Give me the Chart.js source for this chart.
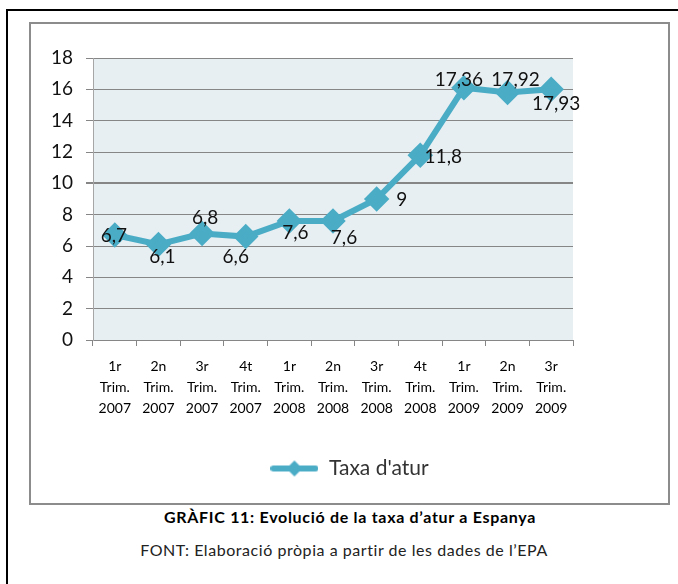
<!DOCTYPE html>
<html><head><meta charset="utf-8">
<script src="https://cdn.jsdelivr.net/npm/chart.js@4.4.0/dist/chart.umd.min.js"></script>
<style>
html,body{margin:0;padding:0;background:#fff;width:678px;height:584px;overflow:hidden;position:relative;font-family:Lato,sans-serif}
#outer{position:absolute;left:6px;top:9px;width:700px;height:700px;border:2px solid #000;box-sizing:border-box}
#box{position:absolute;left:29px;top:22px;width:641px;height:483px;border:2px solid #8c8c8c;box-sizing:border-box}
#wrap{position:absolute;left:31px;top:24px;width:637px;height:479px}
.cap1{position:absolute;left:30px;width:640px;top:507px;text-align:center;font:bold 16px Lato,sans-serif;letter-spacing:0.7px;color:#000}
.cap2{position:absolute;left:24px;width:640px;top:540px;text-align:center;font:16px Lato,sans-serif;letter-spacing:0.55px;color:#222}
</style></head>
<body>
<div id="outer"></div>
<div id="box"></div>
<div id="wrap"><canvas id="c" width="637" height="479"></canvas></div>
<div class="cap1">GRÀFIC 11: Evolució de la taxa d’atur a Espanya</div>
<div class="cap2">FONT: Elaboració pròpia a partir de les dades de l’EPA</div>
<script>
// ---- data ----
const categories = [
  ["1r","Trim.","2007"],["2n","Trim.","2007"],["3r","Trim.","2007"],["4t","Trim.","2007"],
  ["1r","Trim.","2008"],["2n","Trim.","2008"],["3r","Trim.","2008"],["4t","Trim.","2008"],
  ["1r","Trim.","2009"],["2n","Trim.","2009"],["3r","Trim.","2009"]
];
const seriesName = "Taxa d'atur";
const values = [6.7, 6.1, 6.8, 6.6, 7.6, 7.6, 9, 11.8, 16.1, 15.8, 16.0];
const valueLabels = ["6,7","6,1","6,8","6,6","7,6","7,6","9","11,8","17,36","17,92","17,93"];
const yTicks = [0, 2, 4, 6, 8, 10, 12, 14, 16, 18];

// ---- styling ----
const LINE = '#4BACC6';
const GRID = '#868686';
const labelOffsets = [[-1,1],[4,12],[3,-16],[-10,20],[6,12],[11,17],[25,1],[23,2],[-5,-8],[8,-13],[5,15]];

const legendImg = document.createElement('canvas');
legendImg.width = 48; legendImg.height = 18;
(function(){
  const g = legendImg.getContext('2d');
  g.strokeStyle = LINE; g.lineWidth = 6; g.lineCap = 'round';
  g.beginPath(); g.moveTo(3, 9); g.lineTo(45, 9); g.stroke();
  g.fillStyle = LINE;
  g.beginPath(); g.moveTo(24, 1); g.lineTo(32, 9); g.lineTo(24, 17); g.lineTo(16, 9); g.closePath(); g.fill();
})();

const bgPlugin = {
  id: 'bg',
  beforeDraw(chart) {
    const a = chart.chartArea, ctx = chart.ctx;
    ctx.save(); ctx.fillStyle = '#E8EFF3';
    ctx.fillRect(a.left, a.top, a.right - a.left, a.bottom - a.top);
    ctx.restore();
  }
};
const labelPlugin = {
  id: 'vlabels',
  afterDatasetsDraw(chart) {
    const ctx = chart.ctx, meta = chart.getDatasetMeta(0);
    ctx.save();
    ctx.font = '19px Lato, sans-serif';
    ctx.fillStyle = '#111';
    ctx.textAlign = 'center'; ctx.textBaseline = 'middle';
    meta.data.forEach((p, i) => {
      const o = labelOffsets[i] || [0,0];
      ctx.fillText(valueLabels[i], p.x + o[0], p.y + o[1]);
    });
    ctx.restore();
  }
};

new Chart(document.getElementById('c'), {
  type: 'line',
  data: {
    labels: categories,
    datasets: [{
      label: seriesName,
      data: values,
      borderColor: LINE,
      backgroundColor: LINE,
      borderWidth: 6,
      pointStyle: 'rectRot',
      pointRadius: 8.5,
      pointBackgroundColor: LINE,
      pointBorderColor: LINE,
      tension: 0,
      clip: false
    }]
  },
  options: {
    responsive: false,
    animation: false,
    devicePixelRatio: 1,
    layout: { padding: { top: 34, right: 0, bottom: 14, left: 0 } },
    plugins: {
      tooltip: { enabled: false },
      legend: {
        position: 'bottom',
        labels: {
          usePointStyle: true,
          pointStyle: legendImg,
          pointStyleWidth: 48,
          boxHeight: 18,
          padding: 10,
          color: '#333',
          font: { family: 'Lato, sans-serif', size: 21 }
        }
      }
    },
    scales: {
      x: {
        offset: true,
        afterFit(s) { s.height = 108; },
        grid: { display: true, drawOnChartArea: false, drawTicks: true, tickLength: 6, color: GRID, offset: true },
        border: { display: true, color: GRID },
        ticks: { color: '#000', padding: 10, maxRotation: 0, autoSkip: false,
          font: { family: 'Lato, sans-serif', size: 14, lineHeight: 1.5 } }
      },
      y: {
        min: 0, max: 18,
        afterFit(s) { s.width = 62; },
        afterBuildTicks(s) { s.ticks = yTicks.map(v => ({ value: v })); },
        grid: { color: GRID, lineWidth: c => (c.tick && c.tick.value === 10 ? 2 : 1), tickLength: 7, drawTicks: true },
        border: { display: true, color: '#A6A6A6' },
        ticks: { color: '#111', padding: 13, font: { family: 'Lato, sans-serif', size: 19 } }
      },
      yRight: {
        position: 'right',
        display: true,
        afterFit(s) { s.width = 95; },
        grid: { display: false, drawOnChartArea: false },
        border: { display: false },
        ticks: { display: false }
      }
    }
  },
  plugins: [bgPlugin, labelPlugin]
});
</script>
</body></html>
